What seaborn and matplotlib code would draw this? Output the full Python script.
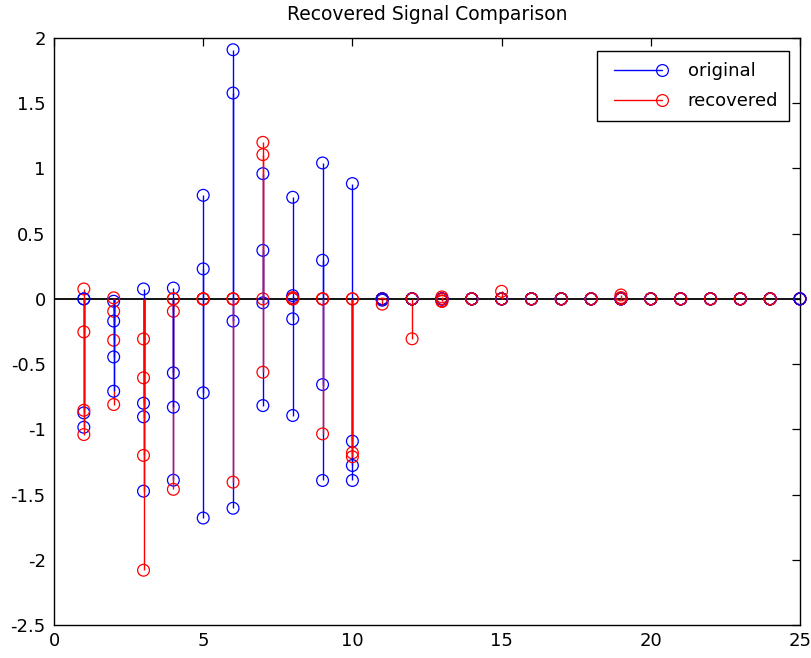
import numpy as np
import matplotlib.pyplot as plt
from matplotlib.lines import Line2D
import seaborn as sns

# sample index
n = np.arange(1, 26)

# original signal, 4 columns
orig_1 = [0, -0.018, 0.076, 0.083, 0.794, 1.91, -0.818, 0.779, 1.042, 0.884,
          0, 0, 0, 0, 0, 0, 0, 0, 0, 0, 0, 0, 0, 0, 0]
orig_2 = [-0.874, -0.17, -0.80, -0.567, 0.23, 1.578, -0.03, 0.025, 0.296, -1.091,
          -0.01, 0, 0, 0, 0, 0, 0, 0, 0, 0, 0, 0, 0, 0, 0]
orig_3 = [-0.984, -0.445, -0.904, -1.39, -0.72, -0.17, 0.372, -0.153, -0.657, -1.277,
          0, 0, 0, 0, 0, 0, 0, 0, 0, 0, 0, 0, 0, 0, 0]
orig_4 = [0, -0.708, -1.474, -0.83, -1.68, -1.605, 0.96, -0.894, -1.392, -1.392,
          0, 0, 0, 0, 0, 0, 0, 0, 0, 0, 0, 0, 0, 0, 0]

# recovered signal, 4 columns
rec_1 = [0.076, -0.81, -0.307, -0.095, 0, 0, 0, 0.01, 0, 0,
         0, 0, 0.015, 0, 0, 0, 0, 0, 0, 0, 0, 0, 0, 0, 0]
rec_2 = [-0.253, -0.317, -0.605, 0, 0, 0, 1.106, 0, 0, 0,
         0, 0, -0.015, 0, 0, 0, 0, 0, 0.01, 0, 0, 0, 0, 0, 0]
rec_3 = [-0.854, -0.095, -1.2, -1.46, 0, 0, -0.562, 0, 0, -1.18,
         0, -0.306, -0.02, 0, 0.058, 0, 0, 0, 0.03, 0, 0, 0, 0, 0, 0]
rec_4 = [-1.04, 0.008, -2.08, 0, 0, -1.405, 1.2, 0, -1.035, -1.21,
         -0.04, 0, 0, 0, 0, 0, 0, 0, 0, 0, 0, 0, 0, 0, np.nan]

original = [orig_1, orig_2, orig_3, orig_4]
recovered = [rec_1, rec_2, rec_3, rec_4]

sns.set_style("white")
plt.rcParams['font.family'] = ['DejaVu Sans']
plt.rcParams['axes.unicode_minus'] = False
plt.rcParams['text.color'] = 'black'

fig = plt.figure(figsize=(8.11, 6.58), dpi=100)
ax = fig.add_axes([54 / 811, 1 - 625 / 658, 746 / 811, 587 / 658])

ax.axhline(0, color='black', lw=1.3, zorder=1)

# columns are drawn one pair at a time, like hold on + stem in a loop
z = 2
for o, r in zip(original, recovered):
    for vals, c in ((o, 'blue'), (r, 'red')):
        vals = np.asarray(vals, dtype=float)
        ok = ~np.isnan(vals)
        ax.vlines(n[ok], 0, vals[ok], color=c, lw=1.0, zorder=z)
        sns.scatterplot(x=n[ok], y=vals[ok], ax=ax, marker='o', s=72,
                        color=c, facecolor='none', edgecolor=c,
                        linewidth=0.9, zorder=z + 0.5, clip_on=False,
                        legend=False)
        z += 1

ax.set_xlim(0, 25)
ax.set_ylim(-2.5, 2)
xt = [0, 5, 10, 15, 20, 25]
yt = [-2.5, -2, -1.5, -1, -0.5, 0, 0.5, 1, 1.5, 2]
ax.set_xticks(xt)
ax.set_xticklabels([str(v) for v in xt])
ax.set_yticks(yt)
ax.set_yticklabels(['%g' % v for v in yt])
ax.tick_params(direction='in', length=5.5, width=0.9, top=True, right=True,
               labelsize=13, colors='black')
ax.tick_params(axis='x', pad=5)
ax.tick_params(axis='y', pad=6)
for sp in ax.spines.values():
    sp.set_color('black')
    sp.set_linewidth(1.0)

ax.set_title('Recovered Signal Comparison', fontsize=13.5, pad=13,
             color='black')

handles = [
    Line2D([0], [0], color='blue', lw=1.0, marker='o', mfc='none', mec='blue',
           ms=8.5, mew=0.9),
    Line2D([0], [0], color='red', lw=1.0, marker='o', mfc='none', mec='red',
           ms=8.5, mew=0.9),
]
leg = ax.legend(handles, ['original', 'recovered'], loc='upper right',
                bbox_to_anchor=(789 / 811, 1 - 51 / 658),
                bbox_transform=fig.transFigure, borderaxespad=0,
                numpoints=2, handlelength=3.3, handletextpad=1.1,
                fontsize=13, fancybox=False, framealpha=1,
                borderpad=0.6, labelspacing=0.7)
leg.get_frame().set_edgecolor('black')
leg.get_frame().set_linewidth(1.0)
for t in leg.get_texts():
    t.set_color('black')
# stem-style legend icon: marker only at the right end of the line
for ln in leg.get_lines():
    ln.set_markevery([1])

fig.savefig('out.png', dpi=100)
